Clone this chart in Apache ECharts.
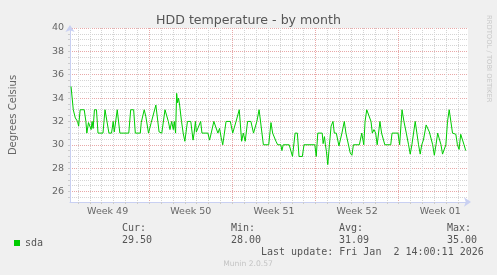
<!DOCTYPE html>
<html><head><meta charset="utf-8">
<script src="https://cdn.jsdelivr.net/npm/echarts@6/dist/echarts.min.js"></script>
<style>html,body{margin:0;padding:0;background:#f0f0f0;}#c{width:497px;height:275px;}</style>
</head><body><div id="c"></div>
<script>
const chartTitle = 'HDD temperature - by month';
const yAxisName = 'Degrees Celsius';
const seriesName = 'sda';
// x = days since the start of week 49
const days = [
0.42,0.61,0.78,0.89,0.97,1.06,1.19,1.53,1.67,1.75,
1.89,2.00,2.11,2.19,2.28,2.39,2.56,2.69,3.11,3.28,
3.44,3.61,3.83,3.97,4.06,4.31,4.53,5.28,5.44,5.69,
5.83,6.25,6.33,6.44,6.58,6.72,6.94,7.17,7.56,7.83,
8.06,8.33,8.61,8.75,8.89,9.03,9.11,9.22,9.31,9.39,
9.47,9.56,9.72,9.86,10.00,10.22,10.50,10.69,10.78,10.89,
10.97,11.11,11.33,11.44,11.94,12.08,12.22,12.44,12.78,12.92,
13.06,13.19,13.47,13.83,14.03,14.17,14.31,14.58,14.78,14.92,
15.08,15.28,15.56,15.78,15.89,16.06,16.25,16.61,17.06,17.25,
17.39,17.53,17.67,17.81,18.08,18.17,18.28,18.78,18.92,19.06,
19.28,19.47,19.61,19.89,20.03,20.94,21.06,21.19,21.56,21.64,
21.75,21.83,21.92,22.03,22.17,22.31,22.47,22.58,22.75,22.86,
22.97,23.08,23.22,23.42,23.56,23.72,23.92,24.06,24.19,24.69,
24.89,25.06,25.17,25.31,25.44,25.67,25.78,25.92,26.06,26.19,
26.42,26.56,26.69,26.83,27.33,27.44,27.94,28.08,28.28,28.44,
28.64,28.83,28.97,29.11,29.25,29.39,29.53,29.67,29.81,29.94,
30.08,30.31,30.44,30.58,30.72,30.86,31.00,31.14,31.28,31.42,
31.56,31.69,31.83,31.97,32.11,32.25,32.39,32.53,32.67,32.81,
32.94,33.08,33.22,33.36,33.50,33.64
];
const temps = [
35.0,33.0,32.3,32.4,32.0,31.6,33.0,33.0,32.0,31.0,
31.9,32.0,31.3,32.0,31.4,33.0,33.0,31.0,31.0,33.0,
33.0,31.0,31.0,32.0,31.1,33.0,31.0,31.0,33.0,33.0,
31.0,31.0,31.9,32.0,33.0,32.4,31.0,31.9,33.4,31.1,
31.0,33.0,32.0,31.3,32.0,31.3,32.0,31.0,34.4,33.6,
34.0,33.4,32.0,31.0,30.3,32.0,32.0,30.4,31.0,32.0,
31.1,31.0,32.0,31.0,31.0,30.4,31.0,32.0,31.0,31.4,
30.6,30.0,32.0,32.0,31.0,31.0,32.0,33.0,30.3,31.0,
30.3,32.0,32.0,31.0,31.0,32.0,33.0,30.0,30.0,31.9,
31.0,31.0,30.3,30.0,30.0,29.5,30.0,30.0,29.9,29.0,
31.0,31.0,29.0,29.0,30.0,30.0,29.0,31.0,31.0,30.1,
30.7,30.0,29.4,28.3,30.0,31.6,32.0,31.0,31.0,30.9,
29.9,29.9,31.0,32.0,31.0,30.9,29.3,29.1,30.0,30.0,
31.0,30.0,32.0,33.0,33.0,32.0,31.0,31.3,31.0,30.0,
32.0,31.0,31.0,30.0,30.0,31.0,31.0,30.0,33.0,32.0,
31.0,30.0,29.2,30.0,31.0,32.0,31.0,30.0,29.2,30.0,
30.4,31.7,31.6,31.1,31.0,30.0,29.1,30.0,31.0,31.0,
30.0,29.2,29.1,30.0,32.0,33.0,32.0,31.0,31.0,30.9,
30.0,29.6,30.9,31.0,30.0,29.5
];
const weekCenters = [3.5, 10.5, 17.5, 24.5, 31.5];
const weekLabels = ['Week 49', 'Week 50', 'Week 51', 'Week 52', 'Week 01'];
const yLabelValues = [26, 28, 30, 32, 34, 36, 38, 40];
const statNames = ['Cur:', 'Min:', 'Avg:', 'Max:'];
const statValues = ['29.50', '28.00', '31.09', '35.00'];
const lastUpdate = 'Last update: Fri Jan  2 14:00:11 2026';
const footer = 'Munin 2.0.57';
const watermark = 'RRDTOOL / TOBI OETIKER';

const dayLines = Array.from({length: 33}, (_, i) => i + 1);
const yTickValues = Array.from({length: 30}, (_, i) => 25.5 + i * 0.5);

const GRAY = '#d4d4d4', RED = '#e8a8a8', AXIS = '#c9d0f2';
const statX = [122, 231, 339, 447];
const mono = '10px "DejaVu Sans Mono"';

const graphics = [];
statNames.forEach((n, i) => {
  graphics.push({type:'text', x: statX[i], y: 228.5, style:{text:n, font:mono, fill:'#555', verticalAlign:'middle'}});
  graphics.push({type:'text', x: statX[i], y: 240, style:{text:statValues[i], font:mono, fill:'#555', verticalAlign:'middle'}});
});
graphics.push({type:'text', x: 261, y: 252, style:{text:lastUpdate, font:mono, fill:'#555', verticalAlign:'middle'}});
graphics.push({type:'text', x: 248, y: 264.5, style:{text:footer, font:'7.6px "DejaVu Sans"', fill:'#c4c4c4', align:'center', verticalAlign:'middle'}});
graphics.push({type:'text', x: 488.5, y: 15, rotation: -Math.PI/2, style:{text:watermark, font:'6.8px "DejaVu Sans"', fill:'#c8c8c8', align:'left', verticalAlign:'middle'}});

const chart = echarts.init(document.getElementById('c'), null, {renderer:'canvas'});
chart.setOption({
  animation: false,
  backgroundColor: '#f0f0f0',
  title: {text: chartTitle, left: 'center', top: 9, textStyle:{fontSize:12.6, fontWeight:'normal', color:'#555', fontFamily:'DejaVu Sans'}},
  grid: {left: 66, right: 29, top: 28, bottom: 73, show: true, backgroundColor: '#ffffff', borderWidth: 0, containLabel: false},
  legend: {data:[seriesName], left: 9, top: 233, icon:'rect', itemWidth: 6, itemHeight: 6, itemGap: 5,
    textStyle:{fontFamily:'DejaVu Sans Mono', fontSize:10, color:'#555', padding:[0,0,0,0]}},
  xAxis: {
    type:'value', min: 0.333, max: 33.833,
    axisLine:{show:true, lineStyle:{color:AXIS, width:1}, symbol:['none','arrow'], symbolSize:[7,7], symbolOffset:[0,3]},
    axisTick:{show:true, customValues: dayLines, length: 2, lineStyle:{color:'#ccc'}},
    axisLabel:{show:true, customValues: weekCenters, margin: 5, fontSize: 9.5, color:'#666', fontFamily:'DejaVu Sans',
      formatter: v => weekLabels[weekCenters.indexOf(v)] || ''},
    splitLine:{show:true, lineStyle:{color:[GRAY,GRAY,GRAY,GRAY,GRAY,GRAY,RED], type:[1,1], width:1}}
  },
  yAxis: {
    type:'value', min: 25.1, max: 40,
    name: yAxisName, nameLocation:'middle', nameGap: 52, nameRotate: 90,
    nameTextStyle:{fontSize:10, color:'#666', fontFamily:'DejaVu Sans'},
    axisLine:{show:true, lineStyle:{color:AXIS, width:1}, symbol:['none','arrow'], symbolSize:[7,7], symbolOffset:[0,3]},
    axisTick:{show:true, customValues: yTickValues, length: 2, lineStyle:{color:'#ccc'}},
    axisLabel:{show:true, customValues: yLabelValues, margin: 6, fontSize: 9.5, color:'#666', fontFamily:'DejaVu Sans'},
    splitLine:{show:true, lineStyle:{color:[GRAY,RED,GRAY,GRAY], type:[1,1], width:1}}
  },
  graphic: graphics,
  series: [{
    name: seriesName, type:'line', data: days.map((d, i) => [d, temps[i]]),
    showSymbol:false, symbol:'none', z: 5,
    lineStyle:{color:'#00cc00', width:1}, itemStyle:{color:'#00cc00'}
  }]
});
</script>
</body></html>
